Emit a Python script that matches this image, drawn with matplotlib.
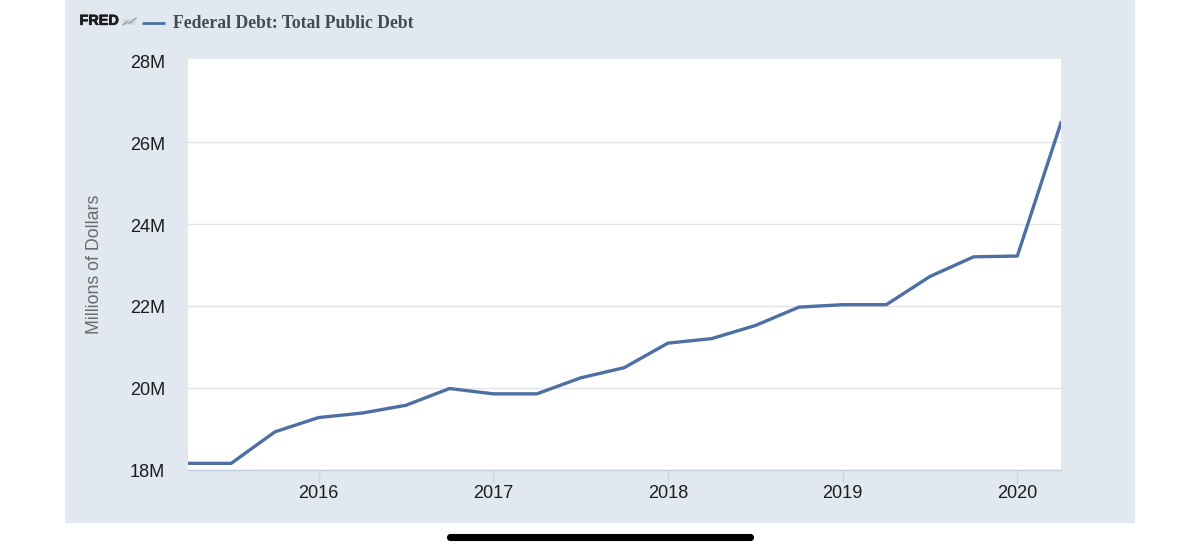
import matplotlib
matplotlib.use("Agg")
import matplotlib.pyplot as plt
import matplotlib.patheffects as pe
from matplotlib.patches import FancyBboxPatch, Rectangle
from matplotlib.transforms import ScaledTranslation

# quarterly values, millions of dollars (in M)
quarters = [2015.25, 2015.5, 2015.75, 2016.0, 2016.25, 2016.5, 2016.75,
            2017.0, 2017.25, 2017.5, 2017.75, 2018.0, 2018.25, 2018.5,
            2018.75, 2019.0, 2019.25, 2019.5, 2019.75, 2020.0, 2020.25]
debt = [18.15, 18.15, 18.92, 19.27, 19.38, 19.57, 19.98,
        19.85, 19.85, 20.24, 20.49, 21.09, 21.20, 21.52,
        21.97, 22.03, 22.03, 22.72, 23.20, 23.22, 26.48]
year_ticks = [2016, 2017, 2018, 2019, 2020]
debt_ticks = [18, 20, 22, 24, 26, 28]

W, H = 1200, 554
PANEL = "#e1e8f0"
LINE = "#4e6fa3"

plt.rcParams["font.family"] = ["Liberation Sans", "DejaVu Sans"]

fig = plt.figure(figsize=(W / 100, H / 100), dpi=100, facecolor="white")

# pixel-coordinate layer for the panel and the decorations
bg = fig.add_axes([0, 0, 1, 1], zorder=0)
bg.set_xlim(0, W)
bg.set_ylim(H, 0)
bg.axis("off")
bg.add_patch(Rectangle((65, 0), 1070, 522.5, facecolor=PANEL, edgecolor="none"))
bg.add_patch(FancyBboxPatch((448, 535), 305, 5, boxstyle="round,pad=0,rounding_size=2.5",
                            mutation_aspect=1, facecolor="black", edgecolor="black", linewidth=1.5))

# header
bg.text(79.5, 20.8, "FRED", fontsize=10.4, fontweight="bold", color="#1c1c1c", va="center",
        path_effects=[pe.withStroke(linewidth=0.5, foreground="#1c1c1c")])
bg.add_patch(Rectangle((123, 19), 12, 6, facecolor="#d0d8dc", edgecolor="none"))
bg.plot([123, 127, 130, 136], [25, 22, 23, 18], color="#93a79a", lw=1)
bg.plot([142, 165], [23.2, 23.2], color=LINE, lw=2.0, solid_capstyle="butt")
bg.text(173, 23, "Federal Debt: Total Public Debt", family="Liberation Serif",
        fontsize=12.7, fontweight="bold", color="#444a52", va="center")

# main plot, limits fitted to the pixel box of the white area
left, right, top, bottom = 187.5, 1061, 59.3, 469.5
ax = fig.add_axes([left / W, 1 - bottom / H, (right - left) / W, (bottom - top) / H], zorder=1)
ax.set_facecolor("white")
ax.plot(quarters, debt, color=LINE, lw=2.4, solid_joinstyle="round")
ax.set_xlim(2015.25, 2020.25)
ax.set_ylim(18, 28.03)

ax.set_yticks(debt_ticks)
ax.set_yticklabels([f"{v}M" for v in debt_ticks])
ax.set_xticks(year_ticks)
ax.set_xticklabels([str(y) for y in year_ticks])
ax.grid(axis="y", color="#e3e3e3", lw=1)
ax.get_ygridlines()[-1].set_visible(False)
ax.set_axisbelow(True)
ax.tick_params(axis="y", length=0, pad=16, labelsize=13.1, labelcolor="#1c1c1c")
ax.tick_params(axis="x", length=9.5, width=1, color="#cdd6e4", pad=2, labelsize=13.1, labelcolor="#1c1c1c")

# y labels sit about a pixel under their gridlines
shift = ScaledTranslation(0, -1 / 100, fig.dpi_scale_trans)
for label in ax.get_yticklabels():
    label.set_transform(label.get_transform() + shift)

for side in ["top", "left", "right"]:
    ax.spines[side].set_visible(False)
ax.spines["bottom"].set_color("#c3cee0")
ax.spines["bottom"].set_linewidth(1)

bg.text(94.5, 264, "Millions of Dollars", rotation=90, fontsize=12.8, color="#6a6a6a",
        ha="center", va="center")

fig.savefig("out.png", dpi=100, facecolor=fig.get_facecolor())
